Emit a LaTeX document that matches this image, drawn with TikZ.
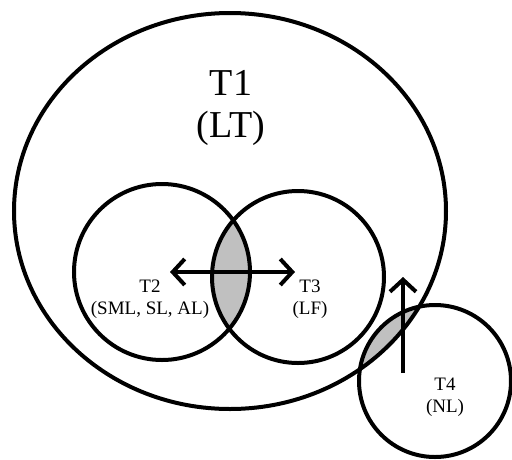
\documentclass[tikz,border=0pt]{standalone}
\usepackage{fontspec}
\setmainfont{Liberation Serif}
\usetikzlibrary{arrows.meta}
\definecolor{lensgray}{RGB}{192,192,192}

\begin{document}
\begin{tikzpicture}[x=1pt, y=-1pt, line width=4pt,
  biglabel/.style={font=\fontsize{38}{42}\selectfont, align=center},
  smalllabel/.style={font=\fontsize{19}{22}\selectfont, align=center},
  barb/.style={line width=4pt, >={Straight Barb[length=12pt, width=26pt]}}]
  \useasboundingbox (0,0) rectangle (512,459);

  % Shaded overlaps
  \begin{scope}
    \clip (162,272) circle (88pt);
    \fill[lensgray] (298,277) circle (86pt);
  \end{scope}
  \begin{scope}
    \clip (230,211) ellipse [x radius=216pt, y radius=198pt];
    \fill[lensgray] (435,381) circle (76pt);
  \end{scope}

  % Outlines
  \draw (230,211) ellipse [x radius=216pt, y radius=198pt];
  \draw (162,272) circle (88pt);
  \draw (298,277) circle (86pt);
  \draw (435,381) circle (76pt);

  % Labels
  \node[biglabel] (t1) at (231,108) {T1\\(LT)};
  \node[smalllabel] (t2) at (150,299) {T2\\(SML, SL, AL)};
  \node[smalllabel] (t3) at (310,299) {T3\\(LF)};
  \node[smalllabel] (t4) at (445,397) {T4\\(NL)};

  % Arrows
  \coordinate (left2) at (170,272);
  \coordinate (right3) at (295,272);
  \coordinate (foot4) at (403,373);
  \coordinate (head1) at (403,277);
  \draw[barb, <->] (left2) -- (right3);
  \draw[barb, ->] (foot4) -- (head1);

\end{tikzpicture}
\end{document}
